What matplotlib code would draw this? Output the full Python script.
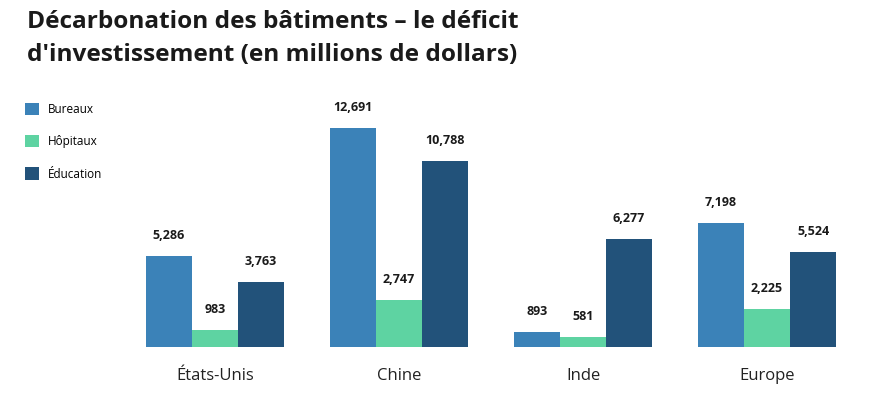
import numpy as np
import matplotlib.pyplot as plt

plt.rcParams['font.family'] = ['Open Sans', 'DejaVu Sans']

regions = ["États-Unis", "Chine", "Inde", "Europe"]
series = ["Bureaux", "Hôpitaux", "Éducation"]
bureaux = [5286, 12691, 893, 7198]
hopitaux = [983, 2747, 581, 2225]
education = [3763, 10788, 6277, 5524]
colors = ["#3b82b8", "#5ed3a2", "#22527a"]

fig = plt.figure(figsize=(8.7, 3.97), dpi=100)
ax = fig.add_axes([100 / 870, 50 / 397, 760 / 870, 219 / 397])

x = np.arange(len(regions))
w = 0.25
for i, (vals, name, c) in enumerate(zip([bureaux, hopitaux, education], series, colors)):
    bars = ax.bar(x + (i - 1) * w, vals, w, color=c, label=name)
    for b, v in zip(bars, vals):
        ax.annotate(f"{v:,}", (b.get_x() + b.get_width() / 2, v),
                    xytext=(0, 10), textcoords="offset points",
                    ha="center", va="bottom", fontsize=9, fontweight="bold",
                    color="#1a1a1a", annotation_clip=False)

ax.set_xlim(-0.625, 3.505)
ax.set_ylim(0, 12691)
ax.set_xticks(x)
ax.set_xticklabels(regions, fontsize=12, color="#222222")
ax.tick_params(axis="x", length=0, pad=15)
ax.set_yticks([])
for s in ax.spines.values():
    s.set_visible(False)

fig.text(27 / 870, 1 - 10 / 397, "Décarbonation des bâtiments – le déficit\nd'investissement (en millions de dollars)",
         ha="left", va="top", fontsize=17.6, fontweight="bold", color="#1a1a1a", linespacing=1.52)

fig.legend(loc="upper left", bbox_to_anchor=(14 / 870, 1 - 92 / 397), frameon=False,
           fontsize=8.5, handlelength=1.25, handleheight=1.25, labelspacing=1.62,
           handletextpad=0.7)

plt.savefig("out.png", dpi=100)
